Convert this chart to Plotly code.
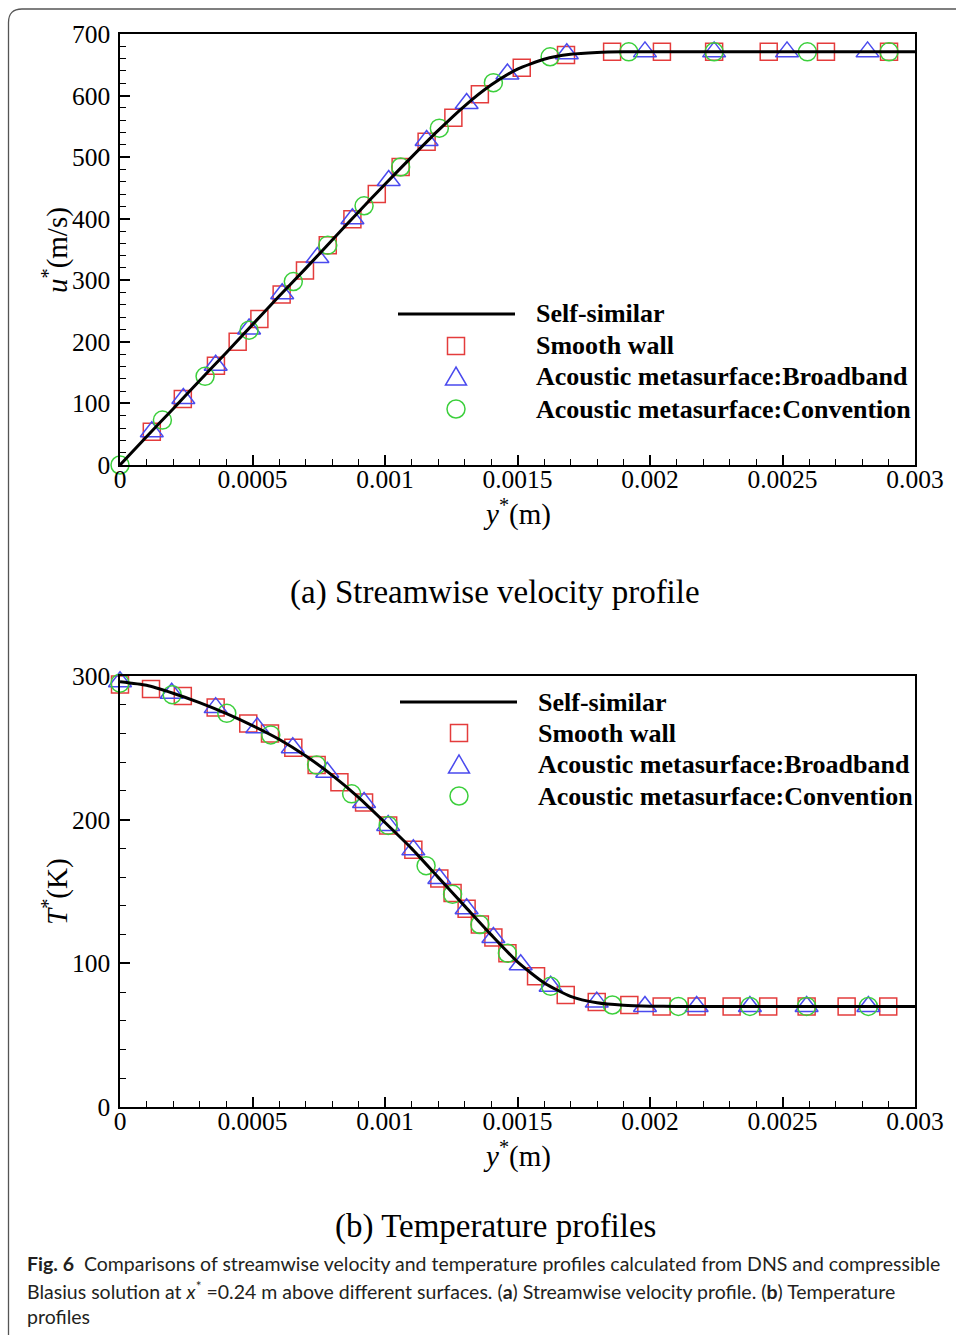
import plotly.graph_objects as go

W, H = 956, 1335

# ---------------- data ----------------
# self-similar (compressible Blasius) profiles
y_ss = [0.0000, 0.0001, 0.0002, 0.0003, 0.0004, 0.0005, 0.0006, 0.0007, 0.0008, 0.0009,
        0.0010, 0.0011, 0.0012, 0.0013, 0.0014, 0.0015, 0.0016, 0.0017, 0.0018, 0.0019,
        0.0020, 0.0021, 0.0022, 0.0023, 0.0024, 0.0025, 0.0026, 0.0027, 0.0028, 0.0029, 0.0030]
u_ss = [0, 46, 91, 137, 182, 228, 274, 319, 365, 411,
        456, 500, 543, 583, 617, 643, 659, 667, 670, 671,
        671, 671, 671, 671, 671, 671, 671, 671, 671, 671, 671]
T_ss = [296, 293.5, 288, 281.5, 274, 265.5, 256, 244.5, 231, 215.5,
        198, 180, 160, 140, 120, 101, 86.5, 77, 72.5, 70.8,
        70.2, 70, 70, 70, 70, 70, 70, 70, 70, 70, 70]

# (a) velocity
smooth_y_u = [0.000120, 0.000237, 0.000362, 0.000444, 0.000526, 0.000610, 0.000698, 0.000784,
              0.000877, 0.000969, 0.001059, 0.001157, 0.001258, 0.001358, 0.001516, 0.001683,
              0.001857, 0.002045, 0.002242, 0.002448, 0.002664, 0.002902]
smooth_u = [54, 107, 161, 200, 237, 277, 316, 357, 399, 440, 484, 525, 564, 602, 645, 666,
            671, 671, 671, 671, 671, 671]
broad_y_u = [0.000120, 0.000239, 0.000361, 0.000487, 0.000612, 0.000745, 0.000877, 0.001014,
             0.001157, 0.001308, 0.001462, 0.001686, 0.001981, 0.002242, 0.002517, 0.002821]
broad_u = [54, 108, 162, 221, 278, 337, 400, 462, 527, 587, 635, 668, 671, 671, 671, 671]
conv_y_u = [0.0, 0.000160, 0.000321, 0.000487, 0.000654, 0.000784, 0.000921, 0.001059,
            0.001205, 0.001409, 0.001623, 0.001920, 0.002242, 0.002594, 0.002902]
conv_u = [0, 73, 144, 219, 298, 357, 421, 484, 547, 621, 663, 671, 671, 671, 671]

# (b) temperature
smooth_y_T = [0.0, 0.000117, 0.000237, 0.000361, 0.000484, 0.000566, 0.000654, 0.000742,
              0.000828, 0.000921, 0.001012, 0.001107, 0.001205, 0.001255, 0.001308, 0.001358,
              0.001409, 0.001462, 0.001570, 0.001682, 0.001799, 0.001922, 0.002044, 0.002176,
              0.002308, 0.002446, 0.002591, 0.002742, 0.002899]
smooth_T = [294, 291, 286, 278, 267, 260, 250, 238, 226, 212, 196, 179, 159, 149, 138, 127,
            118, 107, 91, 78, 73, 71, 70, 70, 70, 70, 70, 70, 70]
broad_y_T = [0.0, 0.000195, 0.000361, 0.000518, 0.000652, 0.000782, 0.000921, 0.001012,
             0.001107, 0.001205, 0.001308, 0.001409, 0.001512, 0.001625, 0.001799, 0.001981,
             0.002176, 0.002377, 0.002591, 0.002824]
broad_T = [296, 288, 278, 264, 250, 233, 212, 196, 179, 159, 138, 118, 99, 84, 73, 70,
           70, 70, 70, 70]
conv_y_T = [0.0, 0.000197, 0.000403, 0.000569, 0.000742, 0.000874, 0.001012, 0.001155,
            0.001255, 0.001358, 0.001462, 0.001625, 0.001858, 0.002107, 0.002377, 0.002591,
            0.002824]
conv_T = [295, 287, 274, 259, 238, 218, 196, 168, 148, 127, 107, 84, 71, 70, 70, 70, 70]

x_tickvals = [0, 0.0005, 0.001, 0.0015, 0.002, 0.0025, 0.003]
x_ticktext = ["0", "0.0005", "0.001", "0.0015", "0.002", "0.0025", "0.003"]
x_minor = [i * 0.0001 for i in range(31) if i % 5]
u_ticks = [0, 100, 200, 300, 400, 500, 600, 700]
u_minor = [v for v in range(0, 701, 20) if v % 100]
T_ticks = [0, 100, 200, 300]
T_minor = [v for v in range(0, 301, 20) if v % 100]

legend_names = ["Self-similar", "Smooth wall", "Acoustic metasurface:Broadband",
                "Acoustic metasurface:Convention"]

RED = "#e43c3c"
BLUE = "#4a4aee"
GREEN = "#3ccf3c"
SERIF = "Liberation Serif, Times New Roman, serif"


def fx(p):
    return p / W


def fy(p):
    return 1 - p / H


fig = go.Figure()


def add_panel(xa, ya, sx, sv, bx, bv, cx, cv, lx, lv):
    common = dict(mode="markers", xaxis=xa, yaxis=ya, cliponaxis=False, showlegend=False)
    fig.add_trace(go.Scatter(x=sx, y=sv, marker=dict(symbol="square-open", size=17, color=RED,
                                                     line=dict(width=1.5, color=RED)), **common))
    fig.add_trace(go.Scatter(x=bx, y=bv, marker=dict(symbol="triangle-up-open", size=20, color=BLUE,
                                                     line=dict(width=1.5, color=BLUE)), **common))
    fig.add_trace(go.Scatter(x=cx, y=cv, marker=dict(symbol="circle-open", size=18, color=GREEN,
                                                     line=dict(width=1.5, color=GREEN)), **common))
    fig.add_trace(go.Scatter(x=lx, y=lv, mode="lines", xaxis=xa, yaxis=ya, showlegend=False,
                             line=dict(color="black", width=3, shape="spline", smoothing=0.6)))


add_panel("x", "y", smooth_y_u, smooth_u, broad_y_u, broad_u, conv_y_u, conv_u, y_ss, u_ss)
add_panel("x2", "y2", smooth_y_T, smooth_T, broad_y_T, broad_T, conv_y_T, conv_T, y_ss, T_ss)

tickfont = dict(family=SERIF, size=25.5, color="black")
axbase = dict(showline=True, linecolor="black", linewidth=1.5, mirror=True, showgrid=False,
              zeroline=False, ticks="inside", ticklen=10, tickwidth=1.5, tickcolor="black",
              tickfont=tickfont, automargin=False)
xax = dict(axbase, range=[0, 0.003], tickmode="array", tickvals=x_tickvals, ticktext=x_ticktext,
           ticklabelstandoff=-9,
           minor=dict(ticks="inside", ticklen=6, tickwidth=1, tickcolor="black",
                      tickmode="array", tickvals=x_minor))

top_dom = [fy(465), fy(34)]
bot_dom = [fy(1107), fy(676)]
xdom = [fx(120), fx(915)]

fig.update_layout(
    width=W, height=H, margin=dict(l=0, r=0, t=0, b=0),
    paper_bgcolor="white", plot_bgcolor="white", showlegend=False,
    template="none",
    xaxis=dict(xax, domain=xdom, anchor="y"),
    yaxis=dict(axbase, domain=top_dom, anchor="x", range=[0, 700], tickmode="array",
               tickvals=u_ticks, ticktext=[str(v) for v in u_ticks], ticklabelstandoff=3,
               minor=dict(ticks="inside", ticklen=6, tickwidth=1, tickcolor="black",
                          tickmode="array", tickvals=u_minor)),
    xaxis2=dict(xax, domain=xdom, anchor="y2"),
    yaxis2=dict(axbase, domain=bot_dom, anchor="x2", range=[0, 300], tickmode="array",
                tickvals=T_ticks, ticktext=[str(v) for v in T_ticks], ticklabelstandoff=3,
                minor=dict(ticks="inside", ticklen=6, tickwidth=1, tickcolor="black",
                           tickmode="array", tickvals=T_minor)),
)

ann = []


def text(x, y, s, size, family=SERIF, xanchor="center", angle=0, color="black"):
    ann.append(dict(x=fx(x), y=fy(y), xref="paper", yref="paper", text=s, showarrow=False,
                    xanchor=xanchor, yanchor="middle", textangle=angle,
                    font=dict(family=family, size=size, color=color)))


# axis titles
text(55, 250, "<i>u</i><sup>*</sup>(m/s)", 29, angle=-90)
text(517, 513, "<i>y</i><sup>*</sup>(m)", 29)
text(55, 892, "<i>T</i><sup>*</sup>(K)", 29, angle=-90)
text(517, 1154, "<i>y</i><sup>*</sup>(m)", 29)

# panel captions
text(495, 592, "(a) Streamwise velocity profile", 33)
text(495, 1226, "(b) Temperature profiles", 33)

# figure caption
CAP = "Lato, Noto Sans, sans-serif"
CS = 19.5
text(25, 1263, "<b>Fig. 6</b>\u00a0\u00a0Comparisons of streamwise velocity and temperature profiles "
               "calculated from DNS and compressible", CS, family=CAP, xanchor="left", color="#231f20")
text(25, 1290, "Blasius solution at <i>x</i><sup>*</sup>\u00a0=0.24\u00a0m above different surfaces. "
               "(<b>a</b>) Streamwise velocity profile. (<b>b</b>) Temperature", CS, family=CAP,
     xanchor="left", color="#231f20")
text(25, 1316, "profiles", CS, family=CAP, xanchor="left", color="#231f20")

shapes = []


def legend(lx0, lx1, mx, rows, tx):
    ly, sy, ty, cy = rows
    shapes.append(dict(type="line", xref="paper", yref="paper", x0=fx(lx0), x1=fx(lx1),
                       y0=fy(ly), y1=fy(ly), line=dict(color="black", width=3)))
    shapes.append(dict(type="rect", xref="paper", yref="paper", x0=fx(mx - 8.5), x1=fx(mx + 8.5),
                       y0=fy(sy + 8.5), y1=fy(sy - 8.5), line=dict(color=RED, width=1.5)))
    path = "M {:.5f},{:.5f} L {:.5f},{:.5f} L {:.5f},{:.5f} Z".format(
        fx(mx), fy(ty - 10), fx(mx - 10.5), fy(ty + 8), fx(mx + 10.5), fy(ty + 8))
    shapes.append(dict(type="path", xref="paper", yref="paper", path=path,
                       line=dict(color=BLUE, width=1.5)))
    shapes.append(dict(type="circle", xref="paper", yref="paper", x0=fx(mx - 9), x1=fx(mx + 9),
                       y0=fy(cy + 9), y1=fy(cy - 9), line=dict(color=GREEN, width=1.5)))
    for name, ry in zip(legend_names, rows):
        text(tx, ry, "<b>" + name + "</b>", 26, xanchor="left")


legend(398, 515, 456, (314, 346, 377, 409), 534)
legend(400, 517, 459, (702, 733, 765, 796), 536)

# outer rounded frame
frame = "M 1.0,{:.5f} L {:.5f},{:.5f} Q {:.5f},{:.5f} {:.5f},{:.5f} L {:.5f},0".format(
    fy(9), fx(22), fy(9), fx(8.5), fy(9), fx(8.5), fy(22.5), fx(8.5))
shapes.append(dict(type="path", xref="paper", yref="paper", path=frame,
                   line=dict(color="#555555", width=1.3)))

fig.update_layout(annotations=ann, shapes=shapes)
fig.write_html("out.html")
